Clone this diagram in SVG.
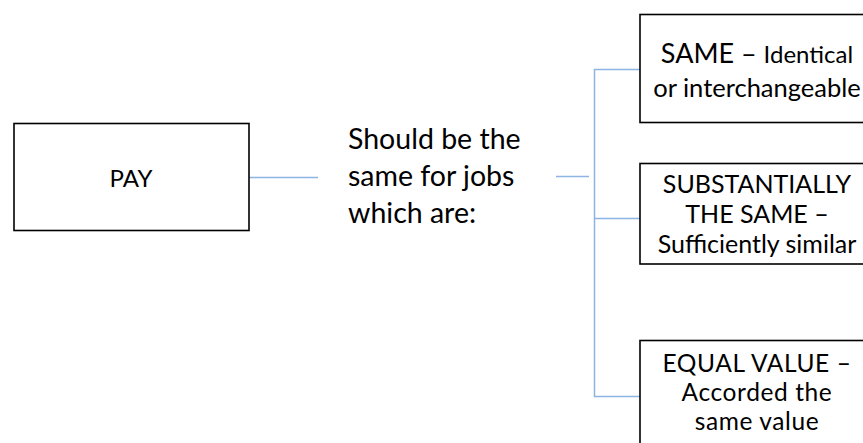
<svg xmlns="http://www.w3.org/2000/svg" width="863" height="443" viewBox="0 0 863 443">
<style>
.box{fill:#fff;stroke:#000;stroke-width:1.6}
.con{fill:none;stroke:#8db4e2;stroke-width:1.5}
text{font-family:Lato,"Noto Sans",sans-serif;fill:#000}
.c{text-anchor:middle}
</style>
<rect width="863" height="443" fill="#fff"/>
<g id="connectors">
<line class="con" x1="249" y1="177.5" x2="318" y2="177.5"/>
<line class="con" x1="556" y1="176.5" x2="589" y2="176.5"/>
<path class="con" d="M640 69.5 H594.5 V396.5 H640 M594.5 218.5 H640"/>
</g>
<g id="pay">
<rect class="box" x="14" y="123.5" width="235" height="107"/>
<text class="c" x="131" y="187" font-size="24">PAY</text>
</g>
<g id="label">
<text x="348" y="149" font-size="28.5">Should be the</text>
<text x="348" y="186" font-size="28.5">same for jobs</text>
<text x="348" y="223" font-size="28.5">which are:</text>
</g>
<g id="same">
<rect class="box" x="640" y="14.5" width="240" height="108"/>
<text class="c" x="757" y="63"><tspan font-size="27">SAME – </tspan><tspan font-size="24">Identical</tspan></text>
<text class="c" x="757" y="97" font-size="25.5">or interchangeable</text>
</g>
<g id="substantially">
<rect class="box" x="640" y="163.5" width="240" height="100.5"/>
<text class="c" x="757" y="193" font-size="25">SUBSTANTIALLY</text>
<text class="c" x="757" y="223" font-size="25">THE SAME –</text>
<text class="c" x="757" y="253" font-size="25">Sufficiently similar</text>
</g>
<g id="equal">
<rect class="box" x="640" y="340.5" width="240" height="120"/>
<text class="c" x="757" y="372" font-size="24.5" letter-spacing="0.6">EQUAL VALUE –</text>
<text class="c" x="757" y="401" font-size="24.5" letter-spacing="0.6">Accorded the</text>
<text class="c" x="757" y="430" font-size="24.5" letter-spacing="0.6">same value</text>
</g>
</svg>
